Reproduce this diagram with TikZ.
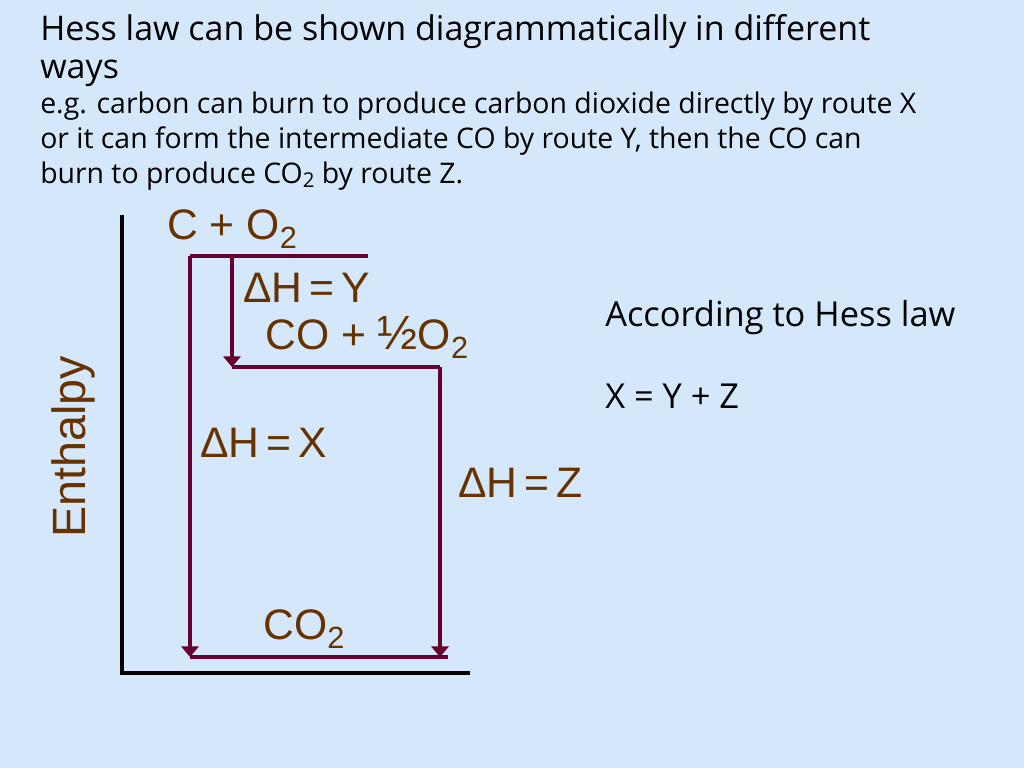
\documentclass[tikz,border=0pt]{standalone}
\usepackage{fontspec}
\setmainfont{Liberation Sans}
\newfontfamily\comicf{Open Sans}
\usetikzlibrary{arrows.meta}
\definecolor{bg}{RGB}{213,232,251}
\definecolor{maroonl}{RGB}{102,0,51}
\definecolor{brownt}{RGB}{102,51,0}
\newcommand\subtwo{\raisebox{-0.42ex}{\scalebox{0.72}{2}}}
\newcommand\hdrtwo{\raisebox{-0.28ex}{\scalebox{0.72}{2}}}
\tikzset{
  level/.style={draw=maroonl, line width=2.6pt},
  route/.style={draw=maroonl, line width=2.6pt, -{Triangle[width=13pt,length=8pt]}},
  axisline/.style={draw=black, line width=2.6pt},
  chem/.style={inner sep=0pt, anchor=base west, text=brownt, font=\fontsize{32}{36}\selectfont},
  hdr/.style={inner sep=0pt, anchor=base west, text=black, font=\comicf\fontsize{25.5}{30}\selectfont},
  sub/.style={inner sep=0pt, anchor=base west, text=black, font=\comicf\fontsize{21.3}{25}\selectfont},
  side/.style={inner sep=0pt, anchor=base west, text=black, font=\comicf\fontsize{25.8}{30}\selectfont}
}
\begin{document}
\begin{tikzpicture}[x=0.75pt,y=-0.75pt]
\fill[bg] (0,0) rectangle (1024,768);
\useasboundingbox (0,0) rectangle (1024,768);
% header
\node[hdr] (h1) at (40,40) {Hess law can be shown diagrammatically in different};
\node[hdr] (h2) at (40,78) {ways};
\node[sub] (h3) at (40,113) {e.g. carbon can burn to produce carbon dioxide directly by route X};
\node[sub] (h4) at (40,148) {or it can form the intermediate CO by route Y, then the CO can};
\node[sub] (h5) at (40,183) {burn to produce CO\hdrtwo{} by route Z.};
% axes
\coordinate (axT) at (122,215);
\coordinate (axO) at (122,673);
\coordinate (axR) at (470,673);
\draw[axisline] (axT) -- (axO) -- (axR);
% levels
\coordinate (tL) at (190,256);
\coordinate (tY) at (232,256);
\coordinate (tR) at (368,256);
\coordinate (mL) at (232,367);
\coordinate (mR) at (440,367);
\coordinate (bL) at (190,657);
\coordinate (bZ) at (440,657);
\coordinate (bR) at (448,657);
\draw[level] (tL) -- (tR);
\draw[level] (mL) -- (mR);
\draw[level] (bL) -- (bR);
\draw[route] (tL) -- (bL);
\draw[route] (tY) -- (mL);
\draw[route] (mR) -- (bZ);
% labels
\node[chem] (c1) at (167,239) {C + O\subtwo};
\node[chem] (dy) at (243,302) {ΔH\,=\,Y};
\node[chem] (c2) at (265,349) {CO + {\fontsize{36}{36}\selectfont ½}O\subtwo};
\node[chem] (dx) at (200,457) {ΔH\,=\,X};
\node[chem] (dz) at (458,497) {ΔH\,=\,Z};
\node[chem] (c3) at (263,639) {CO\subtwo};
\node[chem, anchor=center, rotate=90, font=\fontsize{35}{40}\selectfont] (en) at (73,447) {Enthalpy};
\node[side] (s1) at (605,326) {According to Hess law};
\node[side] (s2) at (605,408) {X = Y + Z};
\end{tikzpicture}
\end{document}
